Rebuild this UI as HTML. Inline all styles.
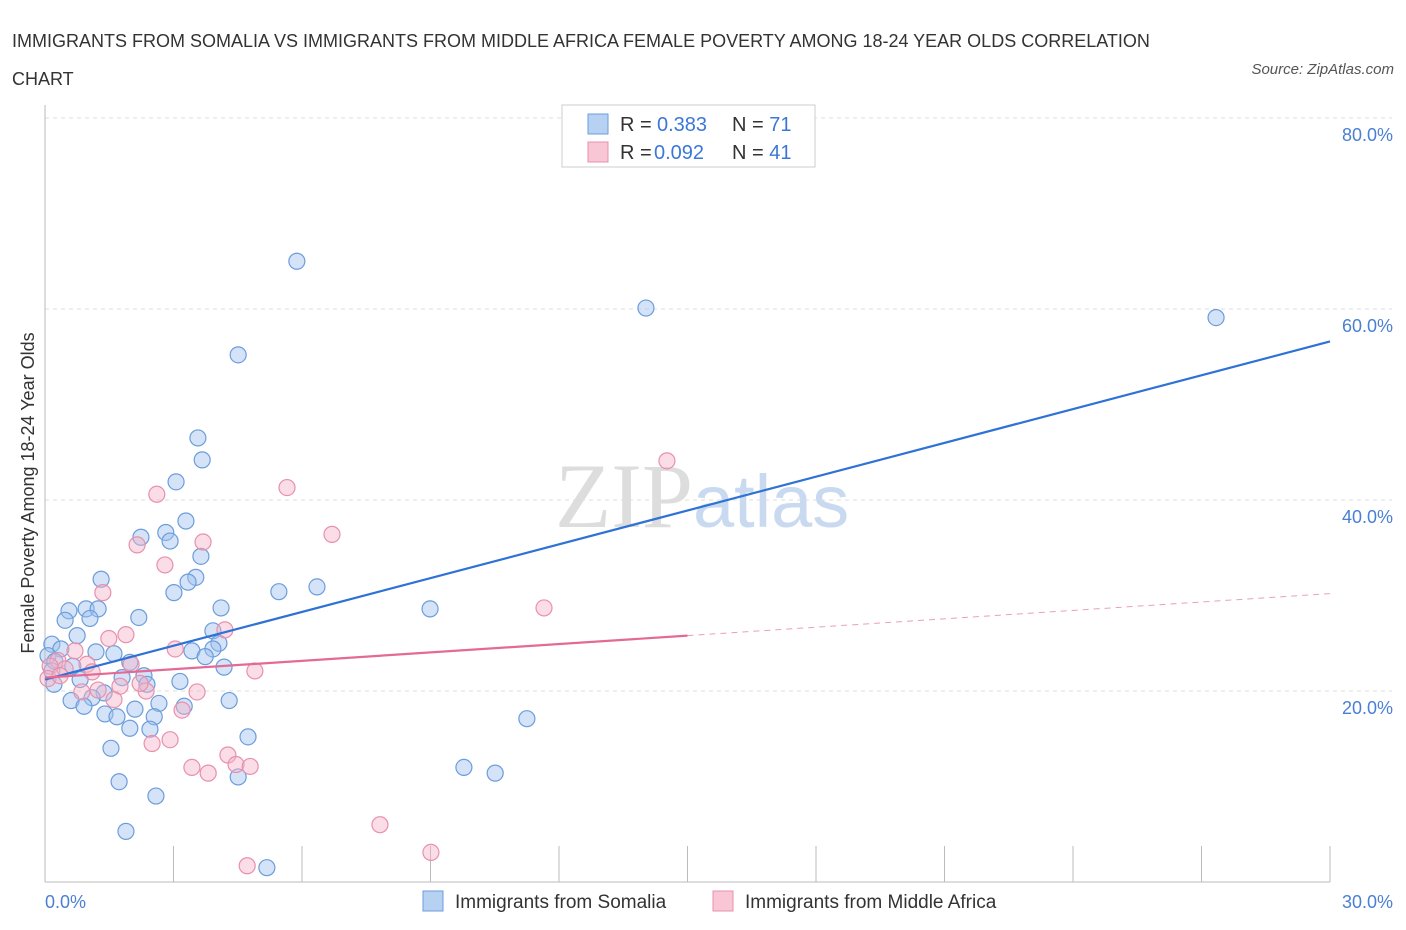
<!DOCTYPE html>
<html><head><meta charset="utf-8">
<style>
body{margin:0;background:#fff;font-family:"Liberation Sans",sans-serif;}
#wrap{position:relative;width:1406px;height:930px;overflow:hidden;}
.t{position:absolute;white-space:nowrap;}
</style></head>
<body>
<div id="wrap">
<div class="t" style="left:12px;top:22px;font-size:18px;color:#333;line-height:38px;">IMMIGRANTS FROM SOMALIA VS IMMIGRANTS FROM MIDDLE AFRICA FEMALE POVERTY AMONG 18-24 YEAR OLDS CORRELATION<br>CHART</div>
<div class="t" style="right:12px;top:61px;font-size:15px;color:#555;font-style:italic;">Source: ZipAtlas.com</div>
<svg id="svg" width="1406" height="930" style="position:absolute;left:0;top:0"></svg>
</div>
<script>
const yTicks=[20,40,60,80];
const yTickLabels=["20.0%","40.0%","60.0%","80.0%"];
const xTickLabels=["0.0%","30.0%"];
const somaliaX=[5.88,14.03,27.34,4.51,3.57,3.67,3.06,3.29,2.82,2.24,2.92,3.64,3.52,3.34,1.31,3.01,5.46,6.35,8.99,0.56,0.96,1.24,4.11,0.47,1.05,2.19,0.75,3.92,4.06,0.16,0.37,3.92,1.19,1.61,3.43,3.74,0.07,0.23,1.98,0.65,4.18,0.16,2.31,1.80,0.82,0.21,3.15,2.38,1.38,1.10,0.61,4.30,0.91,2.66,3.25,2.10,1.40,1.68,2.55,11.25,1.98,2.45,4.74,1.54,9.78,10.51,4.51,1.73,2.59,1.89,5.18];
const somaliaY=[65.0,60.1,59.1,55.2,46.5,44.2,41.9,37.8,36.6,36.1,35.7,34.1,31.9,31.4,31.7,30.3,30.4,30.9,28.6,28.4,28.6,28.6,28.7,27.4,27.6,27.7,25.8,26.3,25.0,24.9,24.4,24.4,24.1,23.9,24.2,23.6,23.7,23.1,23.0,22.6,22.5,22.1,21.6,21.4,21.2,20.7,21.0,20.7,19.8,19.3,19.0,19.0,18.4,18.7,18.4,18.1,17.6,17.3,17.3,17.1,16.1,16.0,15.2,14.0,12.0,11.4,11.0,10.5,9.0,5.3,1.5];
const africaX=[14.52,2.61,5.65,6.70,2.15,3.69,2.80,1.35,11.65,1.89,1.49,4.20,3.04,0.70,0.30,0.98,0.12,0.47,1.10,4.90,2.01,0.07,1.75,2.36,0.86,1.24,3.55,1.61,3.20,2.92,2.50,4.27,3.43,4.46,4.79,3.81,7.82,9.01,4.72,0.35,2.22];
const africaY=[44.1,40.6,41.3,36.4,35.3,35.6,33.2,30.3,28.7,25.9,25.5,26.4,24.4,24.2,23.2,22.8,22.6,22.3,22.0,22.1,22.8,21.3,20.5,20.0,19.9,20.1,19.9,19.1,18.0,14.9,14.5,13.3,12.0,12.3,12.1,11.4,6.0,3.1,1.7,21.6,20.8];
const somaliaTrend=[21.2,56.6];
const africaTrend=[21.4,30.2];
const legendR=["0.383","0.092"];
const legendN=["71","41"];

const NS="http://www.w3.org/2000/svg";
const svg=document.getElementById('svg');
const X0=45,X1=1330,Y0=882,Y80=118;
const sx=v=>X0+(v/30)*(X1-X0);
const sy=v=>Y0-(v/80)*(Y0-Y80);
function mk(tag,attrs,parent){const e=document.createElementNS(NS,tag);for(const k in attrs)e.setAttribute(k,attrs[k]);(parent||svg).appendChild(e);return e;}

// watermark
let wm=mk('text',{x:555,y:527,'font-size':92,'font-family':'Liberation Serif,serif',fill:'#ddd'});


wm.innerHTML='ZIP<tspan font-family="Liberation Sans,sans-serif" fill="#c9daf0" font-size="74">atlas</tspan>';

// gridlines
yTicks.forEach((v,i)=>{
  let g=mk('line',{x1:X0,x2:1392,y1:sy(v),y2:sy(v),stroke:'#ddd','stroke-dasharray':'4,4'});
  
  
  let t=mk('text',{x:1393,y:sy(v)+23,'text-anchor':'end','font-size':18,fill:'#4a7fd4'});
  
  
  t.textContent=yTickLabels[i];
});
// axes
let ya=mk('line',{x1:X0,x2:X0,y1:105,y2:Y0,stroke:'#bbb'});


let xa=mk('line',{x1:X0,x2:X1,y1:Y0,y2:Y0,stroke:'#bbb'});


for(let i=0;i<=10;i++){
  let tk=mk('line',{x1:sx(i*3),x2:sx(i*3),y1:Y0,y2:846,stroke:'#bbb'});
  
  
}
[[0,'start',45],[30,'end',1393]].forEach((d,i)=>{
  let t=mk('text',{x:d[2],y:908,'text-anchor':d[1],'font-size':18,fill:'#4a7fd4'});
  
  
  t.textContent=xTickLabels[i];
});
let yt=mk('text',{x:34,y:493,'text-anchor':'middle','font-size':18,fill:'#333',transform:'rotate(-90 34 493)'});


yt.textContent='Female Poverty Among 18-24 Year Olds';

// points
function pts(xs,ys,fill,stroke,name){
  xs.forEach((x,i)=>{
    let c=mk('circle',{cx:sx(x),cy:sy(ys[i]),r:8,fill:fill,'fill-opacity':0.45,stroke:stroke,'stroke-width':1.2});
    
    
  });
}
pts(somaliaX,somaliaY,'#9fc2ee','#6b9ddc','somalia-point');
pts(africaX,africaY,'#f5b3c8','#e890ac','middle-africa-point');

// trend lines
let bl=mk('line',{x1:sx(0),y1:sy(somaliaTrend[0]),x2:sx(30),y2:sy(somaliaTrend[1]),stroke:'#2f72d6','stroke-width':2.2});


const pmid=africaTrend[0]+(africaTrend[1]-africaTrend[0])*0.5;
let pl=mk('line',{x1:sx(0),y1:sy(africaTrend[0]),x2:sx(15),y2:sy(pmid),stroke:'#e46a96','stroke-width':2.2});


let pd=mk('line',{x1:sx(15),y1:sy(pmid),x2:sx(30),y2:sy(africaTrend[1]),stroke:'#e8a0b8','stroke-width':1,'stroke-dasharray':'6,5'});



// top legend
let lb=mk('rect',{x:562,y:105,width:253,height:62,fill:'#fff',stroke:'#ccc'});


[['#b7d1f3','#6b9ddc'],['#f8c6d5','#e890ac']].forEach((c,i)=>{
  const y=114+i*28;
  let s=mk('rect',{x:588,y:y,width:20,height:20,fill:c[0],stroke:c[1]});
  
  
  let t=mk('text',{x:620,y:y+17,'font-size':20,fill:'#333'});
  
  
  t.innerHTML='R = <tspan fill="#3a78d8" x="'+(i?654:657)+'">'+legendR[i]+'</tspan><tspan x="732">N = </tspan><tspan fill="#3a78d8">'+legendN[i]+'</tspan>';
});

// bottom legend
[['#b7d1f3','#6b9ddc',423,'Immigrants from Somalia','legend-somalia'],['#f8c6d5','#e890ac',713,'Immigrants from Middle Africa','legend-middle-africa']].forEach(d=>{
  let s=mk('rect',{x:d[2],y:891,width:20,height:20,fill:d[0],stroke:d[1]});
  
  
  let t=mk('text',{x:d[2]+32,y:908,'font-size':19,fill:'#333'});
  
  
  t.textContent=d[3];
});
</script>
</body></html>
